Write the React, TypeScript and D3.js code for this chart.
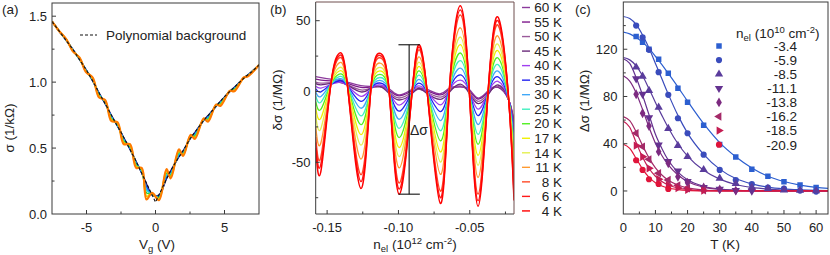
import React from "react";
import * as d3 from "d3";

const FONT = "'Liberation Sans', Arial, Helvetica, sans-serif";
const AXIS = "#3a3a3a";

// ---------- (a) sigma vs Vg ----------
const vgBg = [-7.5, -7, -6.5, -6, -5.5, -5, -4.5, -4, -3.5, -3, -2.5, -2, -1.5, -1, -0.5, 0, 0.5, 1, 1.5, 2, 2.5, 3, 3.5, 4, 4.5, 5, 5.5, 6, 6.5, 7, 7.5];
const sigmaBg = [1.46, 1.39, 1.32, 1.25, 1.17, 1.09, 1.0, 0.9, 0.81, 0.71, 0.62, 0.52, 0.42, 0.31, 0.2, 0.09, 0.2, 0.31, 0.4, 0.48, 0.57, 0.64, 0.71, 0.77, 0.83, 0.89, 0.94, 0.99, 1.04, 1.08, 1.13];

const vgGrid = [-7.5, -7, -6.45, -6.0, -5.5, -5.05, -4.55, -4.1, -3.65, -3.2, -2.75, -2.3, -1.85, -1.4, -1.0, -0.65, -0.25, 0.25, 0.8, 1.1, 1.7, 2.0, 2.55, 2.85, 3.5, 3.8, 4.4, 4.7, 5.4, 5.7, 6.4, 6.7, 7.5];
const sigmaNavy = [1.46, 1.39, 1.314, 1.249, 1.171, 1.097, 1.01, 0.918, 0.838, 0.748, 0.667, 0.578, 0.492, 0.396, 0.312, 0.227, 0.146, 0.143, 0.27, 0.325, 0.435, 0.478, 0.578, 0.617, 0.711, 0.744, 0.819, 0.852, 0.93, 0.959, 1.03, 1.055, 1.13];
const sigmaBlue = [1.46, 1.39, 1.315, 1.247, 1.173, 1.094, 1.014, 0.913, 0.843, 0.741, 0.671, 0.57, 0.498, 0.388, 0.318, 0.208, 0.148, 0.137, 0.281, 0.316, 0.444, 0.472, 0.582, 0.609, 0.713, 0.737, 0.82, 0.847, 0.931, 0.954, 1.031, 1.054, 1.13];
const sigmaCyan = [1.46, 1.39, 1.317, 1.244, 1.176, 1.09, 1.019, 0.906, 0.848, 0.732, 0.677, 0.56, 0.506, 0.379, 0.326, 0.184, 0.151, 0.129, 0.296, 0.305, 0.455, 0.464, 0.586, 0.599, 0.716, 0.728, 0.823, 0.84, 0.932, 0.948, 1.032, 1.052, 1.13];
const sigmaGreen = [1.46, 1.39, 1.319, 1.241, 1.179, 1.086, 1.024, 0.899, 0.854, 0.723, 0.683, 0.55, 0.514, 0.369, 0.334, 0.159, 0.154, 0.121, 0.31, 0.293, 0.467, 0.456, 0.591, 0.59, 0.719, 0.718, 0.825, 0.834, 0.933, 0.942, 1.033, 1.049, 1.13];
const sigmaYellow = [1.46, 1.39, 1.321, 1.238, 1.182, 1.082, 1.029, 0.892, 0.859, 0.714, 0.689, 0.54, 0.522, 0.36, 0.342, 0.135, 0.157, 0.113, 0.325, 0.282, 0.478, 0.448, 0.595, 0.58, 0.722, 0.709, 0.828, 0.827, 0.934, 0.936, 1.034, 1.047, 1.13];
const sigmaOrange = [1.46, 1.39, 1.323, 1.235, 1.185, 1.078, 1.034, 0.885, 0.865, 0.705, 0.695, 0.53, 0.53, 0.35, 0.35, 0.11, 0.16, 0.105, 0.34, 0.27, 0.49, 0.44, 0.6, 0.57, 0.725, 0.7, 0.83, 0.82, 0.935, 0.93, 1.035, 1.045, 1.13];

// ---------- (b) delta sigma vs n_el ----------
const nGrid = [-0.158, -0.1543, -0.1474, -0.1415, -0.1357, -0.1263, -0.1193, -0.113, -0.1065, -0.0995, -0.0904, -0.0857, -0.0799, -0.0706, -0.0643, -0.0566, -0.0503, -0.0442, -0.0372, -0.0302, -0.0227, -0.019];
const ds60K = [10.5, 9.8, 8.7, 8.3, 6.6, 4.2, 3.6, 3.4, 2, -2.4, 1.5, 2.5, 1.5, -1.6, 2.5, 3.5, 1.5, -4.6, 0.5, 3, -6, -21.1];
const ds55K = [8.7, 8.1, 7.5, 7.5, 5.8, 2.9, 3.1, 3.4, 0.9, -3.1, 0.5, 1.5, 0.5, -2.4, 1.5, 3.3, 0.5, -5.3, -0.5, 3, -6, -21.7];
const ds50K = [6.6, 5.9, 6.2, 6.7, 4.8, 1.1, 2.5, 3.4, -0.3, -4.6, -0.5, 1.7, -0.5, -4, 0.5, 4, -0.5, -6.9, -1.5, 3.6, -6, -22.9];
const ds45K = [5.5, 4.7, 5.7, 6.5, 4.5, -0.3, 2.3, 3.7, -1.4, -6, -1.5, 2.3, -1.5, -5.5, -0.5, 5.2, -1.5, -8.5, -2.5, 4.6, -6, -24];
const ds40K = [3.7, 2.4, 5, 6.6, 4, -3.4, 2, 4.6, 0, -9.6, 0, 4, 0, -9.5, 1, 8.1, 0, -12.4, -1, 7.2, -6, -26.8];
const ds35K = [1.9, -0.2, 5, 7.6, 4, -7, 2, 6, 0, -13.9, 0, 5.9, 0, -14.2, 1, 11.7, 0, -17, -1, 10.3, -6, -30.3];
const ds30K = [-0.4, -3.5, 5, 9, 4, -11.8, 2, 7.8, 0, -19.6, 0, 8.6, 0, -20.5, 1, 16.5, 0, -23.3, -1, 14.4, -6, -34.8];
const ds25K = [-3.2, -7.5, 5, 10.5, 4, -17.2, 2, 9.9, 0, -26, 0, 11.6, 0, -27.7, 1, 21.8, 0, -30.3, -1, 19, -6, -40];
const ds20K = [-6.9, -12.5, 5, 12.3, 4, -23.4, 2, 12.1, 0, -32.5, 0, 14.5, 0, -34.8, 1, 27.2, 0, -37.3, -1, 23.7, -6, -45.1];
const ds17K = [-11.5, -18.7, 5, 14.5, 4, -30.5, 2, 14.6, 0, -39.6, 0, 17.8, 0, -42.7, 1, 33.1, 0, -45.1, -1, 28.8, -6, -50.8];
const ds14K = [-17, -25.9, 5, 16.9, 4, -37.9, 2, 17, 0, -46, 0, 20.8, 0, -49.8, 1, 38.5, 0, -52.1, -1, 33.4, -6, -55.9];
const ds11K = [-24.8, -36, 5, 20.2, 4, -47.7, 2, 20.1, 0, -53.9, 0, 24.4, 0, -58.5, 1, 45, 0, -60.7, -1, 39.1, -6, -62.2];
const ds8K = [-32.2, -45.9, 5, 23.7, 4, -58.7, 2, 23.9, 0, -64.6, 0, 29.4, 0, -70.3, 1, 54, 0, -72.4, -1, 46.8, -6, -70.7];
const ds6K = [-36, -51, 5, 25.3, 4, -63.6, 2, 25.5, 0, -68.9, 0, 31.4, 0, -75, 1, 57.5, 0, -77.1, -1, 49.9, -6, -74.2];
const ds4K = [-40, -56, 5, 27, 4, -68.5, 2, 27, 0, -72.5, 0, 33, 0, -79, 1, 60.5, 0, -81, -1, 52.5, -6, -77];

const tempLabels = ["60 K", "55 K", "50 K", "45 K", "40 K", "35 K", "30 K", "25 K", "20 K", "17 K", "14 K", "11 K", "8 K", "6 K", "4 K"];
const tempColors = ["#8c3a9c", "#7e1a8c", "#9a5a9a", "#6a2a7a", "#a040f0", "#2222f0", "#40a8f8", "#40f0c0", "#50f020", "#f0f000", "#e4f050", "#ff9a30", "#ff4a28", "#ff1a1a", "#ff0000"];
const dsByTemp = [ds60K, ds55K, ds50K, ds45K, ds40K, ds35K, ds30K, ds25K, ds20K, ds17K, ds14K, ds11K, ds8K, ds6K, ds4K];

// amplitude marker (n, delta sigma)
const barN = -0.0925;
const barCapN = [-0.1, -0.085];
const barRange = [-72.5, 33];

// ---------- (c) amplitude vs T ----------
const tPts = [4, 6, 8, 11, 14, 17, 20, 25, 30, 35, 40, 45, 50, 55, 60];
const tFit = [0, 2, 4, 6, 8, 10, 12, 14, 17, 20, 25, 30, 35, 40, 45, 50, 55, 60, 65];
const nLabels = ["-3.4", "-5.9", "-8.5", "-11.1", "-13.8", "-16.2", "-18.5", "-20.9"];
const pts34 = [130.8, 126, 120, 111.6, 99.7, 87, 75.2, 55.6, 39.3, 28.8, 18.4, 12.4, 7.9, 5, 3];
const pts59 = [140, 130, 119.5, 100.6, 81.4, 61.6, 48.9, 30.7, 17.8, 9.3, 5.9, 2.8, 2, 0.3, -0.5];
const pts85 = [104.8, 97, 85, 70.9, 52.8, 38.4, 29, 18, 10.7, 6.2, 3.1, 2, 0.8, 0.5, 0];
const pts111 = [95, 82, 62, 39, 25, 17, 8, 3, 1.5, 0.5, 0];
const pts138 = [81.9, 65.8, 55, 33.3, 23.4, 12, 7, 3, 1.3, 0.3];
const pts162 = [48.9, 37.6, 26.8, 15, 9.3, 4.8, 2.3, 0.6];
const pts185 = [38.4, 29, 19.2, 9.9, 4.9, 2.5, 1, 0.3];
const pts209 = [26, 17.8, 9.9, 5.9, 1.7];
const fit34 = [134.5, 133, 130, 126, 120.5, 114, 107, 99.5, 88, 76, 57, 41, 29, 19.5, 12.5, 8, 5, 3, 2];
const fit59 = [147.7, 146, 141, 132, 121, 108, 95, 82, 64, 49, 31, 18.5, 10.5, 6, 3.3, 1.8, 1, 0.5, 0.3];
const fit85 = [113, 111, 106, 97.5, 86.5, 75, 64, 53.5, 40, 29.5, 17.5, 10, 5.5, 3, 1.6, 0.8, 0.4, 0.2, 0.1];
const fit111 = [112, 108, 96, 81, 64.5, 48, 36, 26, 16, 9.5, 4, 1.6, 0.6, 0.2, 0.1, 0, 0, 0, 0];
const fit138 = [97.5, 93, 83, 69, 54, 40.5, 30, 22, 13.5, 8, 3.2, 1.2, 0.5, 0.2, 0.1, 0, 0, 0, 0];
const fit162 = [63, 59.5, 50, 38.5, 28, 19.5, 13.5, 9, 5, 2.6, 0.8, 0.2, 0, 0, 0, 0, 0, 0, 0];
const fit185 = [59, 54, 41, 28.5, 19, 12.5, 8, 5, 2.5, 1.2, 0.3, 0, 0, 0, 0, 0, 0, 0, 0];
const fit209 = [39.5, 36, 27.5, 18.5, 11.5, 7, 4.2, 2.5, 1.2, 0.5, 0.1, 0, 0, 0, 0, 0, 0, 0, 0];

const cColors = ["#2c5fd0", "#3a4cbc", "#5a3c9c", "#643290", "#7c2a80", "#a42a68", "#c41c52", "#e0143a"];
const cShapes = [
  { type: d3.symbolSquare, rot: 0, size: 30 },
  { type: d3.symbolCircle, rot: 0, size: 30 },
  { type: d3.symbolTriangle, rot: 0, size: 30 },
  { type: d3.symbolTriangle, rot: 180, size: 30 },
  { type: d3.symbolDiamond, rot: 0, size: 28 },
  { type: d3.symbolTriangle, rot: -90, size: 30 },
  { type: d3.symbolTriangle, rot: 90, size: 30 },
  { type: d3.symbolCircle, rot: 0, size: 30 },
];
const cPts = [pts34, pts59, pts85, pts111, pts138, pts162, pts185, pts209];
const cFits = [fit34, fit59, fit85, fit111, fit138, fit162, fit185, fit209];

function pairs(xs: number[], ys: number[]) {
  return ys.map((y, i) => [xs[i], y] as [number, number]);
}

function TickX({ scale, values, y, len }: any) {
  return (
    <g stroke={AXIS} strokeWidth={1}>
      {values.map((v: number) => (
        <line key={v} x1={scale(v)} x2={scale(v)} y1={y} y2={y - len} />
      ))}
    </g>
  );
}
function TickY({ scale, values, x, len }: any) {
  return (
    <g stroke={AXIS} strokeWidth={1}>
      {values.map((v: number) => (
        <line key={v} x1={x} x2={x + len} y1={scale(v)} y2={scale(v)} />
      ))}
    </g>
  );
}

export default function App() {
  // panel (a)
  const xa = d3.scaleLinear().domain([-7.5, 7.5]).range([52, 259]);
  const ya = d3.scaleLinear().domain([0, 1.6]).range([214, 3]);
  const lineA = d3.line<[number, number]>().x((d) => xa(d[0])).y((d) => ya(d[1])).curve(d3.curveCatmullRom.alpha(0.5));
  const aCurves = [
    { v: sigmaNavy, c: "#1c1464", w: 1.6 },
    { v: sigmaBlue, c: "#2050f0", w: 1.6 },
    { v: sigmaCyan, c: "#20c8e8", w: 1.6 },
    { v: sigmaGreen, c: "#30d040", w: 1.6 },
    { v: sigmaYellow, c: "#eee000", w: 1.8 },
    { v: sigmaOrange, c: "#ff7a00", w: 2.2 },
  ];

  // panel (b)
  const xb = d3.scaleLinear().domain([-0.158, -0.019]).range([315.7, 514]);
  const yb = d3.scaleLinear().domain([-86.5, 63.2]).range([214, 2]);
  const lineB = d3.line<[number, number]>().x((d) => xb(d[0])).y((d) => yb(d[1])).curve(d3.curveNatural);

  // panel (c)
  const xc = d3.scaleLinear().domain([0, 63.7]).range([623.3, 828]);
  const yc = d3.scaleLinear().domain([-19.5, 160]).range([214, 2]);
  const lineC = d3.line<[number, number]>().x((d) => xc(d[0])).y((d) => yc(d[1])).curve(d3.curveMonotoneX);

  const tickFont = { fontFamily: FONT, fontSize: 13, fill: "#222" };
  const labFont = { fontFamily: FONT, fontSize: 13.5, fill: "#222" };

  return (
    <svg width={830} height={255} style={{ position: "absolute", left: 0, top: 0, background: "#fff" }}>
      <defs>
        <clipPath id="clipA"><rect x={52} y={3} width={207} height={211} /></clipPath>
        <clipPath id="clipB"><rect x={315.7} y={2} width={198.3} height={212} /></clipPath>
        <clipPath id="clipC"><rect x={623.3} y={2} width={204.7} height={212} /></clipPath>
      </defs>

      {/* ---------------- (a) ---------------- */}
      <g clipPath="url(#clipA)">
        {aCurves.map((c, i) => (
          <path key={i} d={lineA(pairs(vgGrid, c.v)) || ""} fill="none" stroke={c.c} strokeWidth={c.w} strokeLinejoin="round" />
        ))}
        <path d={d3.line<[number, number]>().x((d) => xa(d[0])).y((d) => ya(d[1]))(pairs(vgBg, sigmaBg)) || ""} fill="none" stroke="#111" strokeWidth={1.1} strokeDasharray="3,2" />
      </g>
      <rect x={52} y={3} width={207} height={211} fill="none" stroke={AXIS} strokeWidth={1} />
      <TickX scale={xa} values={[-5, 0, 5]} y={214} len={4} />
      <TickX scale={xa} values={[-2.5, 2.5]} y={214} len={2.5} />
      <TickY scale={ya} values={[0.5, 1.0, 1.5]} x={52} len={4} />
      <TickY scale={ya} values={[0.25, 0.75, 1.25]} x={52} len={2.5} />
      {[0, 0.5, 1.0, 1.5].map((v) => (
        <text key={v} x={47} y={ya(v) + 4.6} textAnchor="end" {...tickFont}>{v.toFixed(1)}</text>
      ))}
      {[-5, 0, 5].map((v) => (
        <text key={v} x={xa(v)} y={232} textAnchor="middle" {...tickFont}>{v}</text>
      ))}
      <text x={13.5} y={128} transform="rotate(-90 13.5 128)" textAnchor="middle" {...labFont}>σ (1/kΩ)</text>
      <text x={157} y={248.5} textAnchor="middle" {...labFont}>V<tspan fontSize={9.5} dy={3}>g</tspan><tspan dy={-3}> (V)</tspan></text>
      <text x={2} y={13.5} {...labFont}>(a)</text>
      <line x1={80} x2={97} y1={35} y2={35} stroke="#111" strokeWidth={1.1} strokeDasharray="3,2" />
      <text x={106} y={39.7} {...labFont}>Polynomial background</text>

      {/* ---------------- (b) ---------------- */}
      <g clipPath="url(#clipB)">
        {dsByTemp.map((vals, i) => (
          <path key={i} d={lineB(pairs(nGrid, vals)) || ""} fill="none" stroke={tempColors[i]} strokeWidth={i >= 12 ? 1.5 : 1.3} />
        ))}
      </g>
      <g stroke="#111" strokeWidth={1.1}>
        <line x1={xb(barN)} x2={xb(barN)} y1={yb(barRange[0])} y2={yb(barRange[1])} />
        <line x1={xb(barCapN[0])} x2={xb(barCapN[1])} y1={yb(barRange[0])} y2={yb(barRange[0])} />
        <line x1={xb(barCapN[0])} x2={xb(barCapN[1])} y1={yb(barRange[1])} y2={yb(barRange[1])} />
      </g>
      <text x={410} y={135} fontFamily={FONT} fontSize={14} fill="#222">Δσ</text>
      <line x1={315.7} x2={315.7} y1={2} y2={214} stroke={AXIS} />
      <line x1={315.7} x2={514} y1={214} y2={214} stroke={AXIS} />
      <line x1={315.7} x2={514} y1={2} y2={2} stroke="#6e4e4e" />
      <line x1={514} x2={514} y1={2} y2={214} stroke="#6e4e4e" />
      <TickX scale={xb} values={[-0.15, -0.1, -0.05]} y={214} len={4} />
      <TickX scale={xb} values={[-0.125, -0.075, -0.025]} y={214} len={2.5} />
      <TickY scale={yb} values={[-50, 0, 50]} x={315.7} len={4} />
      <TickY scale={yb} values={[-75, -25, 25]} x={315.7} len={2.5} />
      {[50, 0, -50].map((v) => (
        <text key={v} x={310.5} y={yb(v) + 4.6} textAnchor="end" {...tickFont}>{v}</text>
      ))}
      {[-0.15, -0.1, -0.05].map((v) => (
        <text key={v} x={xb(v)} y={232} textAnchor="middle" {...tickFont}>{v.toFixed(2)}</text>
      ))}
      <text x={282} y={100} transform="rotate(-90 282 100)" textAnchor="middle" {...labFont}>δσ (1/MΩ)</text>
      <text x={415} y={248.5} textAnchor="middle" {...labFont}>
        n<tspan fontSize={9.5} dy={3}>el</tspan><tspan dy={-3}> (10</tspan><tspan fontSize={9.5} dy={-5}>12</tspan><tspan dy={5}> cm</tspan><tspan fontSize={9.5} dy={-5}>-2</tspan><tspan dy={5}>)</tspan>
      </text>
      <text x={270} y={13.5} {...labFont}>(b)</text>
      {tempLabels.map((t, i) => {
        const y = 7.5 + i * 14.53;
        return (
          <g key={t}>
            <line x1={522} x2={530} y1={y} y2={y} stroke={tempColors[i]} strokeWidth={1.4} />
            <text x={562} y={y + 4.7} textAnchor="end" {...labFont}>{t}</text>
          </g>
        );
      })}

      {/* ---------------- (c) ---------------- */}
      <g clipPath="url(#clipC)">
        {cFits.map((f, i) => (
          <path key={i} d={lineC(pairs(tFit, f)) || ""} fill="none" stroke={cColors[i]} strokeWidth={1.2} />
        ))}
        {cPts.map((p, i) => {
          const sh = cShapes[i];
          const d = d3.symbol().type(sh.type).size(sh.size)() || "";
          return p.map((v, j) => (
            <path key={i + "-" + j} d={d} fill={cColors[i]} transform={`translate(${xc(tPts[j])},${yc(v)}) rotate(${sh.rot})`} />
          ));
        })}
      </g>
      <rect x={623.3} y={2} width={204.7} height={212} fill="none" stroke={AXIS} strokeWidth={1} />
      <TickX scale={xc} values={[10, 20, 30, 40, 50, 60]} y={214} len={4} />
      <TickX scale={xc} values={[5, 15, 25, 35, 45, 55]} y={214} len={2.5} />
      <TickY scale={yc} values={[0, 40, 80, 120]} x={623.3} len={4} />
      <TickY scale={yc} values={[20, 60, 100, 140]} x={623.3} len={2.5} />
      {[0, 40, 80, 120].map((v) => (
        <text key={v} x={617.5} y={yc(v) + 4.6} textAnchor="end" {...tickFont}>{v}</text>
      ))}
      {[0, 10, 20, 30, 40, 50, 60].map((v) => (
        <text key={v} x={xc(v)} y={232} textAnchor="middle" {...tickFont}>{v}</text>
      ))}
      <text x={589} y={101} transform="rotate(-90 589 101)" textAnchor="middle" {...labFont}>Δσ (1/MΩ)</text>
      <text x={725} y={248.5} textAnchor="middle" {...labFont}>T (K)</text>
      <text x={575} y={13.5} {...labFont}>(c)</text>
      <text x={736} y={38} {...labFont}>
        n<tspan fontSize={9.5} dy={3}>el</tspan><tspan dy={-3}> (10</tspan><tspan fontSize={9.5} dy={-5}>10</tspan><tspan dy={5}> cm</tspan><tspan fontSize={9.5} dy={-5}>-2</tspan><tspan dy={5}>)</tspan>
      </text>
      {nLabels.map((lab, i) => {
        const y = 46 + i * 14.1;
        const sh = cShapes[i];
        const d = d3.symbol().type(sh.type).size(sh.size)() || "";
        return (
          <g key={lab}>
            <path d={d} fill={cColors[i]} transform={`translate(719,${y}) rotate(${sh.rot})`} />
            <text x={797} y={y + 4.8} textAnchor="end" {...labFont}>{lab}</text>
          </g>
        );
      })}
    </svg>
  );
}
